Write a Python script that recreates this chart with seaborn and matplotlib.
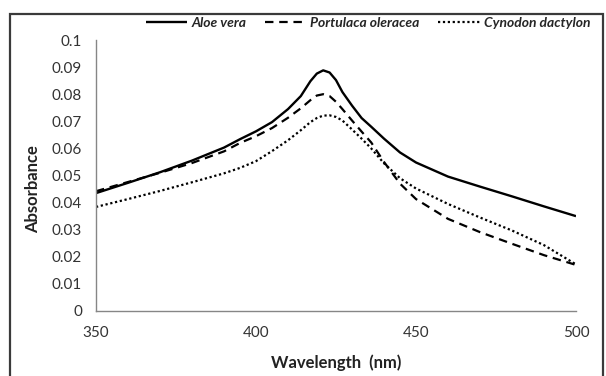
import numpy as np
import pandas as pd
import seaborn as sns
import matplotlib.pyplot as plt
from matplotlib.patches import Rectangle
from matplotlib.ticker import FuncFormatter

# values
wavelength = [350, 360, 370, 380, 390, 395, 400, 405, 410, 414, 417, 419, 421, 423,
              425, 427, 430, 433, 436, 440, 445, 450, 460, 470, 480, 490, 500]
aloe_vera = [0.0435, 0.0473, 0.0512, 0.0555, 0.0603, 0.0634, 0.0663, 0.0697, 0.0745,
             0.0793, 0.0848, 0.0876, 0.0888, 0.0880, 0.0852, 0.0808, 0.0758, 0.0712,
             0.0680, 0.0636, 0.0585, 0.0548, 0.0496, 0.0459, 0.0423, 0.0386, 0.0350]
portulaca = [0.0442, 0.0476, 0.0510, 0.0546, 0.0589, 0.0620, 0.0645, 0.0675, 0.0713,
             0.0748, 0.0778, 0.0795, 0.0800, 0.0793, 0.0772, 0.0745, 0.0703, 0.0662,
             0.0622, 0.0550, 0.0470, 0.0413, 0.0340, 0.0291, 0.0248, 0.0206, 0.0170]
cynodon = [0.0384, 0.0413, 0.0443, 0.0475, 0.0508, 0.0528, 0.0553, 0.0590, 0.0630,
           0.0667, 0.0697, 0.0712, 0.0721, 0.0722, 0.0716, 0.0703, 0.0670, 0.0636,
           0.0600, 0.0545, 0.0490, 0.0452, 0.0395, 0.0345, 0.0297, 0.0243, 0.0172]
series_names = ["Aloe vera", "Portulaca oleracea", "Cynodon dactylon"]
x_ticks = [350, 400, 450, 500]
y_ticks = [0, 0.01, 0.02, 0.03, 0.04, 0.05, 0.06, 0.07, 0.08, 0.09, 0.1]

sns.set_style("white")
plt.rcParams['font.family'] = ['Lato', 'DejaVu Sans']

fig = plt.figure(figsize=(6.06, 3.76), dpi=100)
ax = fig.add_axes([96/606, 1 - 311/376, 480/606, 271/376])

styles = [(0, ()), (0, (3.8, 2.6)), (0, (1, 1.2))]
widths = [1.7, 1.6, 1.6]
for name, vals, ls, lw in zip(series_names, [aloe_vera, portulaca, cynodon], styles, widths):
    df = pd.DataFrame({"wl": wavelength, "abs": vals})
    sns.lineplot(data=df, x="wl", y="abs", ax=ax, color="black", lw=lw,
                 linestyle=ls, label=name)

ax.set_xlim(350, 500)
ax.set_ylim(0, 0.1)
ax.set_xticks(x_ticks)
ax.set_yticks(y_ticks)
ax.yaxis.set_major_formatter(FuncFormatter(lambda v, p: f"{v:g}"))
for s in ["top", "right"]:
    ax.spines[s].set_visible(False)
for s in ["left", "bottom"]:
    ax.spines[s].set_color("#868686")
    ax.spines[s].set_linewidth(1)
ax.tick_params(direction="out", length=4, width=1, color="#868686",
               labelsize=11, labelcolor="#333333")
ax.tick_params(axis="x", pad=7)
ax.tick_params(axis="y", pad=6)
ax.set_xlabel("Wavelength  (nm)", fontsize=12, fontweight="bold", color="#222222")
ax.set_ylabel("Absorbance", fontsize=12, fontweight="bold", color="#222222")
ax.xaxis.set_label_coords(0.5, -0.16)
ax.yaxis.set_label_coords(-0.115, 0.45)

handles, labels = ax.get_legend_handles_labels()
ax.get_legend().remove()
fig.legend(handles, labels, loc="center", bbox_to_anchor=(368/606, 1 - 23/376), ncol=3,
           frameon=False, handlelength=3.0, columnspacing=1.3, handletextpad=0.3,
           prop={"weight": "bold", "style": "italic", "size": 10})

fig.patches.append(Rectangle((10/606, -0.05), 593/606, 1.05 - 14/376,
                             transform=fig.transFigure, fill=False,
                             edgecolor="#3a3a3a", lw=1.6))

plt.savefig("out.png", dpi=100)
